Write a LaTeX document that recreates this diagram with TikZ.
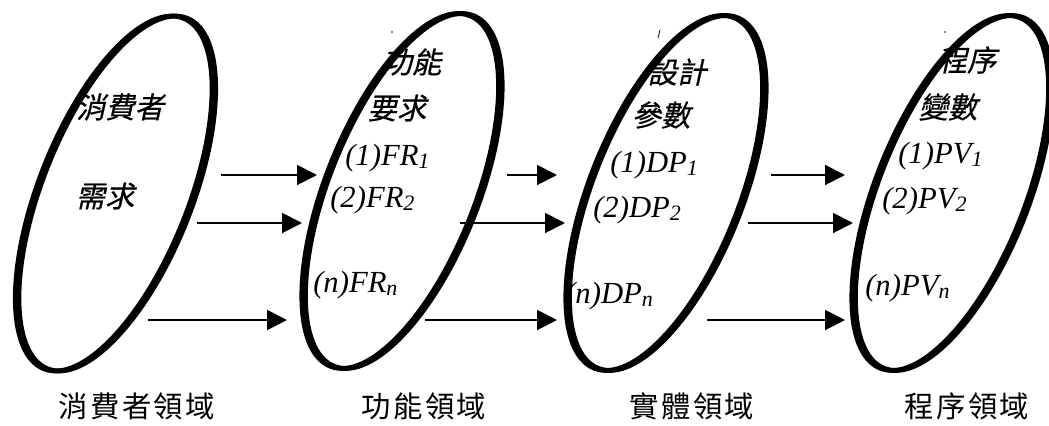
\documentclass[tikz,border=0pt]{standalone}
\usepackage{fontspec}
\setmainfont{Liberation Serif}
\newfontfamily\cjkslant[FakeSlant=0.22,FakeBold=0.6]{Noto Sans CJK TC}
\newfontfamily\cjklab[LetterSpace=8]{Noto Sans CJK TC}
\usetikzlibrary{arrows.meta}
\newcommand\sbx[1]{\raisebox{-2.5pt}{\fontsize{16.5}{18}\selectfont\itshape #1}}
\tikzset{
  rim/.style={draw=black, line width=3.6pt},
  conn/.style={line width=1.5pt, -{Triangle[length=15pt,width=15pt]}},
  itlab/.style={font=\fontsize{23}{27}\selectfont\itshape, anchor=base west, inner sep=0pt},
  cjkin/.style={font=\cjkslant\fontsize{22}{26}\selectfont, inner sep=0pt},
  dom/.style={font=\cjklab\fontsize{22}{26}\selectfont, inner sep=0pt},
}
\begin{document}
\begin{tikzpicture}[x=0.75pt,y=-0.75pt]
\useasboundingbox (0,0) rectangle (1049,425);
% ellipses
\foreach \cx/\cy in {115.5/193.5, 402/191, 666/193, 952/193}{
  \foreach \dx in {-1.8,1.8}{
    \begin{scope}[shift={(\cx+\dx,\cy)}, rotate=-21.7]
      \draw[rim] (0,0) ellipse [x radius=56pt, y radius=141.5pt];
    \end{scope}
  }
}
% stray marks
\draw[line width=0.6pt] (660,30) -- (658,38);
\fill (392,32) circle (0.6pt);
\fill (945,32) circle (0.6pt);
% texts inside ellipses
\node[cjkin] (t1a) at (120,107) {消費者};
\node[cjkin] (t1b) at (105,196) {需求};
\node[cjkin] (t2a) at (412,62) {功能};
\node[cjkin] (t2b) at (397,108) {要求};
\node[cjkin] (t3a) at (677,72) {設計};
\node[cjkin] (t3b) at (661,115) {參數};
\node[cjkin] (t4a) at (967,60) {程序};
\node[cjkin] (t4b) at (948,107) {變數};
\node[itlab] (f1) at (345,165) {(1)FR\sbx{1}};
\node[itlab] (f2) at (330,207) {(2)FR\sbx{2}};
\node[itlab] (fn) at (313,292) {(n)FR\sbx{n}};
\node[itlab] (d1) at (610,172) {(1)DP\sbx{1}};
\node[itlab] (d2) at (593,217) {(2)DP\sbx{2}};
\node[itlab] (dn) at (565,303) {(n)DP\sbx{n}};
\node[itlab] (p1) at (898,163) {(1)PV\sbx{1}};
\node[itlab] (p2) at (882,208) {(2)PV\sbx{2}};
\node[itlab] (pn) at (865,295) {(n)PV\sbx{n}};
% domain labels
\node[dom] (L1) at (137,406) {消費者領域};
\node[dom] (L2) at (424,406) {功能領域};
\node[dom] (L3) at (692,406) {實體領域};
\node[dom] (L4) at (967,406) {程序領域};
% arrows
\coordinate (a1s) at (221,175); \coordinate (a1e) at (317,175);
\coordinate (a2s) at (197,223); \coordinate (a2e) at (302,223);
\coordinate (a3s) at (148,320); \coordinate (a3e) at (287,320);
\coordinate (a4s) at (507,175); \coordinate (a4e) at (557,175);
\coordinate (a5s) at (460,223); \coordinate (a5e) at (565,223);
\coordinate (a6s) at (425,320); \coordinate (a6e) at (557,320);
\coordinate (a7s) at (771,175); \coordinate (a7e) at (845,175);
\coordinate (a8s) at (748,223); \coordinate (a8e) at (853,223);
\coordinate (a9s) at (707,320); \coordinate (a9e) at (845,320);
\foreach \i in {1,...,9}{ \draw[conn] (a\i s) -- (a\i e); }
\end{tikzpicture}
\end{document}
